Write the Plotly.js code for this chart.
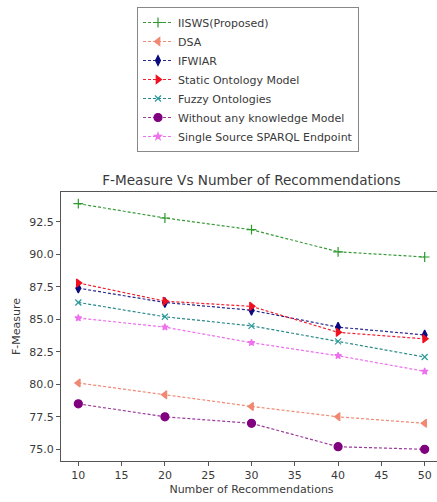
<!DOCTYPE html>
<html>
<head>
<meta charset="utf-8">
<script src="https://cdn.plot.ly/plotly-3.0.1.min.js"></script>
<style>
html,body{margin:0;padding:0;overflow:hidden;background:#fff;}
#chart{width:445px;height:502px;}
</style>
</head>
<body>
<div id="chart"></div>
<script>
const recommendations = [10, 20, 30, 40, 50];
const seriesNames = [
  "IISWS(Proposed)",
  "DSA",
  "IFWIAR",
  "Static Ontology Model",
  "Fuzzy Ontologies",
  "Without any knowledge Model",
  "Single Source SPARQL Endpoint"
];
const iisws = [93.9, 92.8, 91.9, 90.2, 89.8];
const dsa = [80.1, 79.2, 78.3, 77.5, 77.0];
const ifwiar = [87.4, 86.3, 85.7, 84.4, 83.8];
const staticOntology = [87.8, 86.4, 86.0, 84.0, 83.5];
const fuzzy = [86.3, 85.2, 84.5, 83.3, 82.1];
const withoutKnowledge = [78.5, 77.5, 77.0, 75.2, 75.0];
const sparql = [85.1, 84.4, 83.2, 82.2, 81.0];
const yTicks = [75.0, 77.5, 80.0, 82.5, 85.0, 87.5, 90.0, 92.5];
const xTicks = [10, 15, 20, 25, 30, 35, 40, 45, 50];

const seriesValues = [iisws, dsa, ifwiar, staticOntology, fuzzy, withoutKnowledge, sparql];
const styles = [
  {color: "#2c9a2c", line: "#3a9a3a", symbol: "cross-thin-open", size: 7},
  {color: "#f08872", line: "#f08872", symbol: "triangle-left", size: 7},
  {color: "#0a0a80", line: "#2a2a90", symbol: "diamond-tall", size: 7},
  {color: "#f01020", line: "#f02030", symbol: "triangle-right", size: 7},
  {color: "#2a9a9a", line: "#2a8a8a", symbol: "x-thin-open", size: 6},
  {color: "#800080", line: "#9a3a9a", symbol: "circle", size: 8},
  {color: "#ee70ee", line: "#ee70ee", symbol: "star", size: 5}
];

const traces = seriesNames.map((name, i) => ({
  x: recommendations,
  y: seriesValues[i],
  name: name,
  type: "scatter",
  mode: "lines+markers",
  line: {color: styles[i].line, width: 1.2, dash: "3px,2px"},
  marker: {color: styles[i].color, symbol: styles[i].symbol, size: styles[i].size,
           line: {color: styles[i].color, width: 1.2}}
}));

const font = {family: "DejaVu Sans, sans-serif", size: 11, color: "#3a3a3a"};
const legendFont = {family: "DejaVu Sans, sans-serif", size: 11, color: "#3a3a3a"};

const layout = {
  width: 445,
  height: 502,
  margin: {l: 61, r: 3, t: 192, b: 41},
  paper_bgcolor: "#fff",
  plot_bgcolor: "#fff",
  font: font,
  title: {
    text: "F-Measure Vs Number of Recommendations",
    font: {family: "DejaVu Sans, sans-serif", size: 13.6, color: "#3a3a3a"},
    xref: "paper", x: 0.5, xanchor: "center",
    yref: "container", y: 1 - 180/502, yanchor: "middle"
  },
  xaxis: {
    range: [8, 52],
    tickvals: xTicks,
    ticktext: xTicks.map(String),
    showgrid: false, zeroline: false,
    showline: true, mirror: true, linecolor: "#555", linewidth: 1,
    ticks: "outside", ticklen: 4, tickcolor: "#555",
    tickfont: font,
    title: {text: "Number of Recommendations", font: font, standoff: 4}
  },
  yaxis: {
    range: [74.1, 94.8],
    tickvals: yTicks,
    ticktext: yTicks.map(v => v.toFixed(1)),
    showgrid: false, zeroline: false,
    showline: true, mirror: true, linecolor: "#555", linewidth: 1,
    ticks: "outside", ticklen: 4, tickcolor: "#555",
    tickfont: font,
    title: {text: "F-Measure", font: font, standoff: 6}
  },
  showlegend: true,
  legend: {
    x: (137 - 61) / 381, xanchor: "left",
    y: (461 - 7) / 269, yanchor: "top",
    bgcolor: "#fff",
    bordercolor: "#888", borderwidth: 1,
    font: legendFont,
    itemwidth: 30,
    tracegroupgap: 0
  }
};

Plotly.newPlot("chart", traces, layout, {displayModeBar: false, staticPlot: true});
</script>
</body>
</html>
